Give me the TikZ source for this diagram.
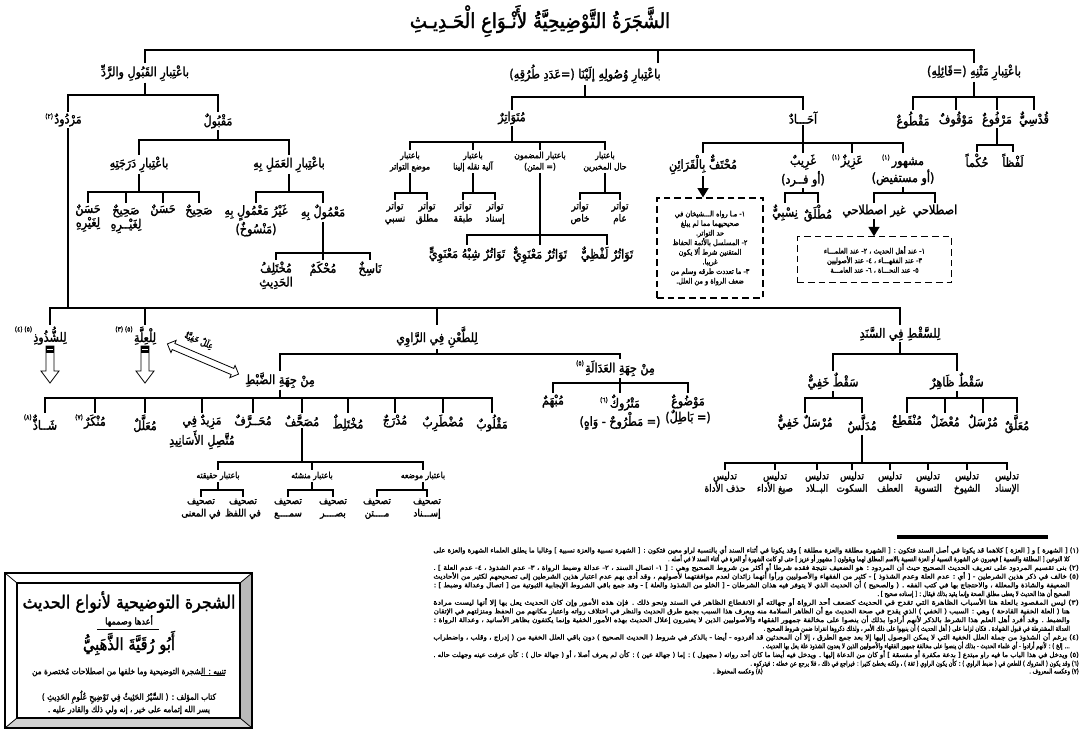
\documentclass[tikz,border=0pt]{standalone}
\usepackage{fontspec}
\usepackage{graphicx}
\usetikzlibrary{shapes.arrows,arrows.meta,calc}
\TeXXeTstate=1
\newfontfamily\arb[Script=Arabic,FakeBold=1.8,FakeStretch=0.88]{DejaVu Sans}
\newcommand{\R}[1]{\beginR #1\endR}
\newcommand{\fA}{\arb\fontsize{9.5}{10.5}\selectfont}
\newcommand{\fB}{\arb\fontsize{7.6}{9.3}\selectfont}
\newcommand{\fS}{\arb\fontsize{6.5}{8.5}\selectfont}
\newcommand{\fN}{\arb\fontsize{5}{6}\selectfont}
\newcommand{\fM}{\arb\fontsize{5}{5}\selectfont}
\newcommand{\fT}{\arb\fontsize{15.5}{17}\selectfont}
\newcommand{\sh}[1]{\scalebox{0.9}[1]{#1}}
\newcommand{\tgrp}[3]{%
  \draw[con] (#1.south) -- (#1.south|-0,#2);
  \foreach \ch in {#3}{\draw[con] (#1.south|-0,#2) -| (\ch.north);}}
\begin{document}
\begin{tikzpicture}[x=0.75pt,y=-0.75pt,
  lab/.style={font=\fA, inner sep=1pt, anchor=north, align=center},
  lbb/.style={font=\fB, inner sep=1pt, anchor=north, align=center},
  sml/.style={font=\fS, inner sep=1pt, anchor=north, align=center},
  con/.style={line width=1.7pt},
  fnm/.style={font=\fM, inner sep=0.3pt, anchor=south east},
  fnl/.style={font=\fN, inner sep=0pt, anchor=east},
  dbox/.style={draw, dash pattern=on 5pt off 3pt, line width=0.8pt},
  bxt/.style={font=\arb\fontsize{5.6}{7.2}\selectfont, inner sep=0pt, align=center},
  arr/.style={line width=1.7pt, -{Triangle[length=7pt,width=8pt]}},
]
\useasboundingbox (0,0) rectangle (1081,751);
\fill[white] (0,0) rectangle (1081,751);

% title
\node[font=\fT, inner sep=0pt] (title) at (540,21) {\R{الشَّجَرَةُ التَّوْضِيحِيَّةُ لأَنْـوَاعِ الْحَـدِيـثِ}};

% level 1
\node[lab] (qr) at (145,63) {\R{باعْتِبارِ القَبُولِ والرَّدِّ}};
\node[lab] (ws) at (585,63) {\R{باعْتِبارِ وُصُولِهِ إلَيْنَا (=عَدَدِ طُرُقِهِ)}};
\node[lab] (mt) at (974,63) {\R{باعْتِبارِ مَتْنِهِ (=قَائِلِهِ)}};
\draw[con] (qr.north) -- (qr.north|-0,50) -- (mt.north|-0,50) -- (mt.north);
\draw[con] (ws.north-|658,0) -- (658,50);

% right branch
\node[lab] (maqtu) at (913,110) {\R{مَقْطُوعٌ}};
\node[lab] (mawquf) at (956,110) {\R{مَوْقُوفٌ}};
\node[lab] (marfu) at (997,110) {\R{مَرْفُوعٌ}};
\node[lab] (qudsi) at (1034,110) {\R{قُدْسِيٌّ}};
\tgrp{mt}{97}{maqtu,mawquf,marfu,qudsi}
\node[lab] (hukman) at (977,152) {\R{حُكْماً}};
\node[lab] (lafzan) at (1013,152) {\R{لَفْظاً}};
\tgrp{marfu}{145}{hukman,lafzan}

% middle branch
\node[lab] (mutawatir) at (512,110) {\R{مُتَوَاتِرٌ}};
\node[lab] (ahad) at (803,110) {\R{آحَـــادٌ}};
\tgrp{ws}{97}{mutawatir,ahad}

\node[sml] (b1) at (605,150) {\R{باعتبار}\\\R{حال المخبرين}};
\node[sml] (b2) at (540,150) {\R{باعتبار المضمون}\\\R{(= المتن)}};
\node[sml] (b3) at (473,150) {\R{باعتبار}\\\R{آلية نقله إلينا}};
\node[sml] (b4) at (410,150) {\R{باعتبار}\\\R{موضع التواتر}};
\tgrp{mutawatir}{142}{b1,b2,b3,b4}

\node[lbb] (t1) at (620,200) {\R{تواتر}\\\R{عام}};
\node[lbb] (t2) at (580,200) {\R{تواتر}\\\R{خاص}};
\tgrp{b1}{193}{t1,t2}
\node[lbb] (t3) at (495,200) {\R{تواتر}\\\R{إسناد}};
\node[lbb] (t4) at (463,200) {\R{تواتر}\\\R{طبقة}};
\tgrp{b3}{193}{t3,t4}
\node[lbb] (t5) at (427,200) {\R{تواتر}\\\R{مطلق}};
\node[lbb] (t6) at (395,200) {\R{تواتر}\\\R{نسبي}};
\tgrp{b4}{193}{t5,t6}
\node[lab] (t7) at (607,245) {\R{تَوَاتُرٌ لَفْظِيٌّ}};
\node[lab] (t8) at (540,245) {\R{تَوَاتُرٌ مَعْنَوِيٌّ}};
\node[lab] (t9) at (467,245) {\R{تَوَاتُرٌ شِبْهُ مَعْنَوِيٍّ}};
\tgrp{b2}{235}{t7,t8,t9}

\node[lab] (muhtaf) at (703,153) {\R{مُحْتَفٌّ بِالْقَرَائِنِ}};
\node[lab] (gharib) at (803,153) {\R{غَرِيبٌ}\\\R{(أو فــرد)}};
\node[lab] (aziz) at (852,153) {\R{عَزِيزٌ}};
\node[fnm] (maziz) at ($(aziz.north west)+(1,8)$) {\R{(١)}};
\node[lab] (mashhur) at (903,153) {\R{مشهور\,\raisebox{4pt}{\fM\R{(١)}}}\\\R{(أو مستفيض)}};
\tgrp{ahad}{143}{muhtaf,gharib,aziz,mashhur}
\node[lab] (nisbi) at (785,203) {\R{نِسْبِيٌّ}};
\node[lab] (mutlaq) at (818,203) {\R{مُطْلَقٌ}};
\tgrp{gharib}{193}{nisbi,mutlaq}
\node[lab] (ghayr) at (874,203) {\R{غير اصطلاحي}};
\node[lab] (istilahi) at (935,203) {\R{اصطلاحي}};
\tgrp{mashhur}{193}{ghayr,istilahi}

\node[dbox, minimum width=79.5pt, minimum height=75pt] (boxA) at (710,248) {};
\node[bxt] (boxAt) at (710,248) {\R{١- مـا رواه الـــشيخان في}\\\R{صحيحيهما مما لم يبلغ}\\\R{حد التواتر.}\\\R{٢- المسلسل بالأئمة الحفاظ}\\\R{المتقنين شرط ألا يكون}\\\R{غريبا.}\\\R{٣- ما تعددت طرقه وسلم من}\\\R{ضعف الرواة و من العلل.}};
\draw[arr] (muhtaf.south) -- (muhtaf.south|-boxA.north);

\node[dbox, minimum width=116pt, minimum height=34pt] (boxB) at (874.5,259.5) {};
\node[bxt] (boxBt) at (874.5,259.5) {\R{١- عند أهل الحديث ، ٢- عند العلمـــاء}\\\R{٣- عند الفقهـــاء ، ٤- عند الأصوليين}\\\R{٥- عند النحـــاة ، ٦- عند العامـــة}};
\draw[arr] (ghayr.south) -- (ghayr.south|-boxB.north);

% left branch
\node[lab] (mardud) at (68,112) {\R{مَرْدُودٌ}};
\node[fnm] (mmardud) at ($(mardud.north west)+(1,8)$) {\R{(٢)}};
\node[lab] (maqbul) at (218,112) {\R{مَقْبُولٌ}};
\tgrp{qr}{95}{mardud,maqbul}
\node[lab] (daraja) at (139,155) {\R{باعْتِبارِ دَرَجَتِهِ}};
\node[lab] (amal) at (289,155) {\R{باعْتِبارِ العَمَلِ بِهِ}};
\tgrp{maqbul}{140}{daraja,amal}
\node[lab] (sahih) at (199,203) {\R{صَحِيحٌ}};
\node[lab] (hasan) at (163,203) {\R{حَسَنٌ}};
\node[lab] (sahihl) at (126,203) {\R{صَحِيحٌ}\\\R{لِغَيْــرِهِ}};
\node[lab] (hasanl) at (88,203) {\R{حَسَنٌ}\\\R{لِغَيْرِهِ}};
\tgrp{daraja}{192}{sahih,hasan,sahihl,hasanl}
\node[lab] (mamul) at (323,203) {\R{مَعْمُولٌ بِهِ}};
\node[lab] (ghayrm) at (256,203) {\R{غَيْرُ مَعْمُولٍ بِهِ}\\\R{(مَنْسُوخٌ)}};
\tgrp{amal}{192}{mamul,ghayrm}
\node[lab] (nasikh) at (370,260) {\R{نَاسِخٌ}};
\node[lab] (muhkam) at (323,260) {\R{مُحْكَمٌ}};
\node[lab] (mukhtalif) at (276,260) {\R{مُخْتَلِفُ}\\\R{الحَدِيثِ}};
\tgrp{mamul}{253}{nasikh,muhkam,mukhtalif}

% mardud
\node[lab] (shudhudh) at (50,325) {\R{لِلشُّذُوذِ}};
\node[fnm] (mshudhudh) at ($(shudhudh.north west)+(1,8)$) {\R{(٥) (٤)}};
\node[lab] (illa) at (145,325) {\R{لِلْعِلَّةِ}};
\node[fnm] (milla) at ($(illa.north west)+(1,8)$) {\R{(٥) (٣)}};
\node[lab] (tan) at (437,325) {\R{لِلطَّعْنِ فِي الرَّاوِي}};
\node[lab] (saqt) at (900,325) {\R{لِلسَّقْطِ فِي السَّنَدِ}};
\tgrp{mardud}{308}{shudhudh,illa,tan,saqt}

% hollow arrows
\draw[line width=0.6pt, fill=white] (46,346) -- (54,346) -- (54,371) -- (59,371) -- (50,383) -- (41,371) -- (46,371) -- cycle;
\fill (46,346) rectangle (54,353);
\draw[white, line width=0.7pt] (47,349.5) -- (53,349.5);
\draw[line width=0.6pt, fill=white] (141,346) -- (149,346) -- (149,371) -- (154,371) -- (145,383) -- (136,371) -- (141,371) -- cycle;
\fill (141,346) rectangle (149,353);
\draw[white, line width=0.7pt] (142,349.5) -- (148,349.5);
\node[double arrow, draw, fill=white, line width=0.6pt, minimum height=58pt, inner sep=2.2pt, double arrow head extend=2.5pt, rotate=-23] (dar) at (203,359) {};
\node[font=\fS, inner sep=0pt, rotate=-23] (illal) at (199,340.5) {\R{عِلَلٌ خَفِيَّةٌ}};

% tan
\node[lab] (dabt) at (280,371) {\R{مِنْ جِهَةِ الضَّبْطِ}};
\node[lab] (adala) at (620,359) {\R{مِنْ جِهَةِ العَدَالَةِ}};
\node[fnm] (madala) at ($(adala.north west)+(1,8)$) {\R{(٥)}};
\tgrp{tan}{354}{dabt,adala}

\node[lab] (shadh) at (45,413) {\R{شَــاذٌّ}};
\node[fnm] (mshadh) at ($(shadh.north west)+(1,8)$) {\R{(٨)}};
\node[lab] (munkar) at (95,413) {\R{مُنْكَرٌ}};
\node[fnm] (mmunkar) at ($(munkar.north west)+(1,8)$) {\R{(٧)}};
\node[lab] (muall) at (145,413) {\R{مُعَلَّلٌ}};
\node[lab] (mazid) at (202,413) {\R{مَزِيدٌ فِي}\\\R{مُتَّصِلِ الأَسَانِيدِ}};
\node[lab] (muharraf) at (253,413) {\R{مُحَــرَّفٌ}};
\node[lab] (musahhaf) at (302,413) {\R{مُصَحَّفٌ}};
\node[lab] (mukhtalit) at (348,413) {\R{مُخْتَلِطٌ}};
\node[lab] (mudraj) at (395,413) {\R{مُدْرَجٌ}};
\node[lab] (mudtarib) at (443,413) {\R{مُضْطَرِبٌ}};
\node[lab] (maqlub) at (492,413) {\R{مَقْلُوبٌ}};
\tgrp{dabt}{398}{shadh,munkar,muall,mazid,muharraf,musahhaf,mukhtalit,mudraj,mudtarib,maqlub}

\node[lab] (mubham) at (553,393) {\R{مُبْهَمٌ}};
\node[lab] (matruk) at (620,393) {\R{مَتْرُوكٌ\,\raisebox{4pt}{\fM\R{(٦)}}}\\\R{(= مَطْرُوحٌ - وَاهٍ)}};
\node[lab] (mawdu) at (688,393) {\R{مَوْضُوعٌ}\\\R{(= بَاطِلٌ)}};
\tgrp{adala}{383}{mubham,matruk,mawdu}

\node[sml] (haqiqa) at (218,470) {\R{باعتبار حقيقته}};
\node[sml] (mansha) at (312,470) {\R{باعتبار منشئه}};
\node[sml] (mawdi) at (423,470) {\R{باعتبار موضعه}};
\tgrp{musahhaf}{462}{haqiqa,mansha,mawdi}
\node[lbb] (ts1) at (201,497) {\R{تصحيف}\\\R{في المعنى}};
\node[lbb] (ts2) at (243,497) {\R{تصحيف}\\\R{في اللفظ}};
\tgrp{haqiqa}{490}{ts1,ts2}
\node[lbb] (ts3) at (288,497) {\R{تصحيف}\\\R{سمــــع}};
\node[lbb] (ts4) at (333,497) {\R{تصحيف}\\\R{بصــــر}};
\tgrp{mansha}{490}{ts3,ts4}
\node[lbb] (ts5) at (377,497) {\R{تصحيف}\\\R{مــــتن}};
\node[lbb] (ts6) at (427,497) {\R{تصحيف}\\\R{إســـناد}};
\tgrp{mawdi}{490}{ts5,ts6}

% saqt
\node[lab] (khafi) at (833,371) {\R{سَقْطٌ خَفِيٌّ}};
\node[lab] (zahir) at (957,371) {\R{سَقْطٌ ظَاهِرٌ}};
\tgrp{saqt}{354}{khafi,zahir}
\node[lab] (munqati) at (907,413) {\R{مُنْقَطِعٌ}};
\node[lab] (mudal) at (945,413) {\R{مُعْضَلٌ}};
\node[lab] (mursal) at (983,413) {\R{مُرْسَلٌ}};
\node[lab] (muallaq) at (1017,413) {\R{مُعَلَّقٌ}};
\tgrp{zahir}{398}{munqati,mudal,mursal,muallaq}
\node[lab] (mursalkh) at (805,413) {\R{مُرْسَلٌ خَفِيٌّ}};
\node[lab] (mudallis) at (862,413) {\R{مُدَلَّسٌ}};
\tgrp{khafi}{398}{mursalkh,mudallis}

\node[lbb] (d1) at (725,470) {\R{تدليس}\\\R{حذف الأداة}};
\node[lbb] (d2) at (775,470) {\R{تدليس}\\\R{صيغ الأداء}};
\node[lbb] (d3) at (817,470) {\R{تدليس}\\\R{البــلاد}};
\node[lbb] (d4) at (852,470) {\R{تدليس}\\\R{السكوت}};
\node[lbb] (d5) at (890,470) {\R{تدليس}\\\R{العطف}};
\node[lbb] (d6) at (928,470) {\R{تدليس}\\\R{التسوية}};
\node[lbb] (d7) at (967,470) {\R{تدليس}\\\R{الشيوخ}};
\node[lbb] (d8) at (1007,470) {\R{تدليس}\\\R{الإسناد}};
\tgrp{mudallis}{463}{d1,d2,d3,d4,d5,d6,d7,d8}

% footnotes
\draw[line width=2.5pt] (897,537) -- (1048,537);
\node[fnl] (n1) at (1079,550) {\resizebox{484pt}{\height}{\R{(١) [ الشهرة ] و [ العزة ] كلاهما قد يكونا في أصل السند فتكون : [ الشهرة مطلقة والعزة مطلقة ] وقد يكونا في أثناء السند أي بالنسبة لراو معين فتكون : [ الشهرة نسبية والعزة نسبية ] وغالبا ما يطلق العلماء الشهرة والعزة على}}};
\node[fnl] (n2) at (1070,558.7) {\sh{\R{كلا النوعين [ المطلقة والنسبية ] فيعبرون عن الشهرة النسبية أو العزة النسبية بالاسم المطلق لهما ويقولون [ مشهور أو عزيز ] حتى لو كانت الشهرة أو العزة في أثناء السند لا في أصله .}}};
\node[fnl] (n3) at (1079,567.4) {\resizebox{484pt}{\height}{\R{(٢) بنى تقسيم المردود على تعريف الحديث الصحيح حيث أن المردود : هو الضعيف نتيجة فقده شرطا أو أكثر من شروط الصحيح وهي : [ ١- اتصال السند ، ٢- عدالة وضبط الرواة ، ٣- عدم الشذوذ ، ٤- عدم العلة ] .}}};
\node[fnl] (n4) at (1079,576.1) {\resizebox{484pt}{\height}{\R{(٥) خالف في ذكر هذين الشرطين - [ أي : عدم العلة وعدم الشذوذ ] - كثير من الفقهاء والأصوليين ورأوا أنهما زائدان لعدم موافقتهما لأصولهم ، وقد أدى بهم عدم اعتبار هذين الشرطين إلى تصحيحهم لكثير من الأحاديث}}};
\node[fnl] (n5) at (1070,584.8) {\resizebox{477pt}{\height}{\R{الضعيفة والشاذة والمعللة ، والاحتجاج بها في كتب الفقه . ( والصحيح ) أن الحديث الذي لا يتوفر فيه هذان الشرطان - [ الخلو من الشذوذ والعلة ] - وقد جمع باقي الشروط الإيجابية الثبوتية من [ اتصال وعدالة وضبط ] :}}};
\node[fnl] (n6) at (1070,593.5) {\sh{\R{الصحيح أن هذا الحديث لا يعطى مطلق الصحة وإنما يقيد بذلك فيقال : [ إسناده صحيح ] .}}};
\node[fnl] (n7) at (1079,602.2) {\resizebox{484pt}{\height}{\R{(٣) ليس المقصود بالعلة هنا الأسباب الظاهرة التي تقدح في الحديث كضعف أحد الرواة أو جهالته أو الانقطاع الظاهر في السند ونحو ذلك . فإن هذه الأمور وإن كان الحديث يعل بها إلا أنها ليست مرادة}}};
\node[fnl] (n8) at (1070,610.9) {\resizebox{477pt}{\height}{\R{هنا ( العلة الخفية القادحة ) وهي : السبب ( الخفي ) الذي يقدح في صحة الحديث مع أن الظاهر السلامة منه ويعرف هذا السبب بجمع طرق الحديث والنظر في اختلاف رواته واعتبار مكانهم من الحفظ ومنزلتهم في الإتقان}}};
\node[fnl] (n9) at (1070,619.6) {\resizebox{477pt}{\height}{\R{والضبط . وقد أفرد أهل العلم هذا الشرط بالذكر لأنهم أرادوا بذلك أن ينصوا على مخالفة جمهور الفقهاء والأصوليين الذين لا يعتبرون إعلال الحديث بهذه الأمور الخفية وإنما يكتفون بظاهر الأسانيد ، وعدالة الرواة :}}};
\node[fnl] (n10) at (1070,628.3) {\sh{\R{العدالة المشترطة في قبول الشهادة . فكان لزاما على ( أهل الحديث ) أن ينبهوا على ذلك الأمر ، ولذلك ذكروها انفرادا ضمن شروط الصحيح .}}};
\node[fnl] (n11) at (1079,637) {\resizebox{484pt}{\height}{\R{(٤) برغم أن الشذوذ من جملة العلل الخفية التي لا يمكن الوصول إليها إلا بعد جمع الطرق ، إلا أن المحدثين قد أفردوه - أيضا - بالذكر في شروط ( الحديث الصحيح ) دون باقي العلل الخفية من ( إدراج ، وقلب ، واضطراب}}};
\node[fnl] (n12) at (1070,645.7) {\sh{\R{... إلخ ) : لأنهم أرادوا - أي علماء الحديث - بذلك أن ينصوا على مخالفة جمهور الفقهاء والأصوليين الذين لا يعدون الشذوذ علة يعل بها الحديث .}}};
\node[fnl] (n13) at (1079,654.4) {\resizebox{484pt}{\height}{\R{(٥) ويدخل في هذا الباب ما فيه راو مبتدع [ بدعة مكفرة أو مفسقة ] أو كان من الدعاة إليها . ويدخل فيه أيضا ما كان أحد رواته ( مجهول ) : إما ( جهالة عين ) : كأن لم يعرف أصلا ، أو ( جهالة حال ) : كأن عرفت عينه وجهلت حاله .}}};
\node[fnl] (n14) at (1079,663.1) {\sh{\R{(٦) وقد يكون ( المتروك ) للطعن في ( ضبط الراوي ) : كأن يكون الراوي ( ثقة ) ، ولكنه يخطئ كثيرا : فيراجع في ذلك ، فلا يرجع عن خطئه : فيتركوه .}}};
\node[fnl] (n15) at (1079,671.8) {\sh{\R{(٧) وعكسه المعروف .}}};
\node[fnl] (n16) at (763,671.8) {\sh{\R{(٨) وعكسه المحفوظ .}}};

% info box
\fill[white] (5,573) rectangle (252,728);
\fill[gray!55] (252,573) -- (240,583) -- (240,718) -- (252,728) -- cycle;
\fill[gray!35] (5,728) -- (17,718) -- (240,718) -- (252,728) -- cycle;
\draw[line width=0.6pt] (5,573) -- (17,583) (252,573) -- (240,583) (5,728) -- (17,718) (252,728) -- (240,718);
\draw[line width=1.8pt] (5,573) rectangle (252,728);
\draw[line width=1.5pt] (17,583) rectangle (240,718);
\node[font=\arb\fontsize{13.5}{15}\selectfont, inner sep=0pt] (bt1) at (129,602) {\R{الشجرة التوضيحية لأنواع الحديث}};
\node[font=\arb\fontsize{7}{8}\selectfont, inner sep=0pt] (bt2) at (129,621) {\R{أعدها وصممها}};
\draw[line width=0.6pt] (97,629) -- (159,629);
\node[font=\arb\fontsize{12.5}{14}\selectfont, inner sep=0pt] (bt3) at (129,643) {\R{أَبُو رُقَيَّةَ الذَّهَبِيُّ}};
\node[font=\arb\fontsize{6.3}{7}\selectfont, inner sep=0pt] (bt4) at (129,672) {\R{تنبيه : الشجرة التوضيحية وما خلفها من اصطلاحات مُختصرة من}};
\draw[line width=0.6pt] ($(bt4.south east)+(-1,-1)$) -- ++(-24,0);
\node[font=\arb\fontsize{6.3}{7}\selectfont, inner sep=0pt] (bt5) at (129,697) {\R{كتاب المؤلف : ( السَّيْرُ الحَثِيثُ فِي تَوْضِيحِ عُلُومِ الحَدِيثِ )}};
\node[font=\arb\fontsize{6.3}{7}\selectfont, inner sep=0pt] (bt6) at (129,710) {\R{يسر الله إتمامه على خير ، إنه ولي ذلك والقادر عليه .}};
\end{tikzpicture}
\end{document}
